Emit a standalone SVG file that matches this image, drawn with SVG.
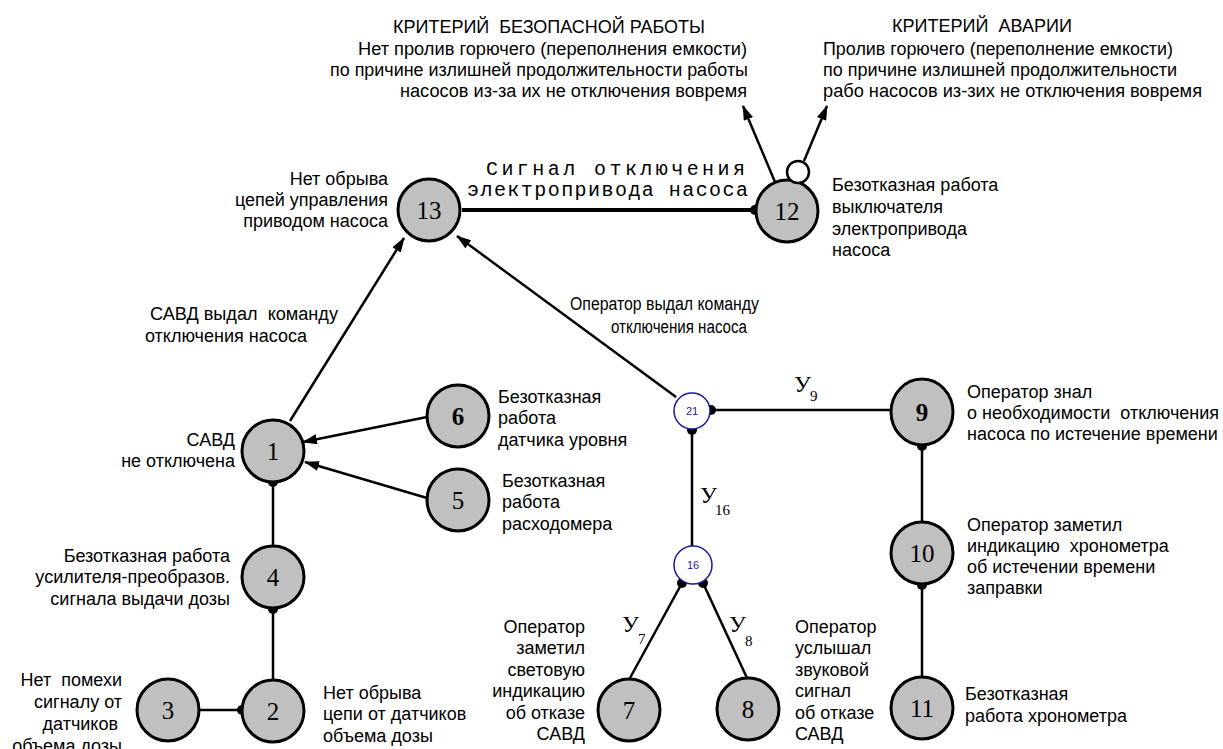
<svg xmlns="http://www.w3.org/2000/svg" width="1223" height="749" viewBox="0 0 1223 749">
<style>
.n{fill:#c0c0c0;stroke:#000;stroke-width:3}
.s{fill:#fff;stroke:#1a1a9a;stroke-width:1.5}
.num{font-family:"Liberation Serif",serif;font-size:25px;text-anchor:middle;fill:#000}
.sn{font-family:"Liberation Sans",sans-serif;font-size:11px;text-anchor:middle;fill:#1a1a9a}
.t{font-family:"Liberation Sans",sans-serif;font-size:18px;fill:#000;white-space:pre}
.r{text-anchor:end}
.m{font-family:"Liberation Mono",monospace;font-size:20px;fill:#000;white-space:pre}
.y{font-family:"Liberation Serif",serif;font-size:24px;fill:#000}
.ys{font-family:"Liberation Serif",serif;font-size:15px;fill:#000}
.c{stroke:#000;stroke-width:2.5;fill:none}
.d{fill:#000}
</style>
<defs>
<marker id="arr" viewBox="0 0 15 10" refX="14" refY="5" markerWidth="15" markerHeight="10" orient="auto" markerUnits="userSpaceOnUse"><path d="M0,0 L15,5 L0,10 z" fill="#000"/></marker>
</defs>
<rect width="1223" height="749" fill="#fff"/>

<g id="criteria">
<text class="t" x="549" y="33" text-anchor="middle" textLength="312" lengthAdjust="spacingAndGlyphs">КРИТЕРИЙ  БЕЗОПАСНОЙ РАБОТЫ</text>
<text class="t" x="358" y="55" textLength="389" lengthAdjust="spacingAndGlyphs">Нет пролив горючего (переполнения емкости)</text>
<text class="t" x="330" y="76" textLength="418" lengthAdjust="spacingAndGlyphs">по причине излишней продолжительности работы</text>
<text class="t" x="400" y="97" textLength="347" lengthAdjust="spacingAndGlyphs">насосов из-за их не отключения вовремя</text>
<text class="t" x="892" y="32" textLength="180" lengthAdjust="spacingAndGlyphs">КРИТЕРИЙ  АВАРИИ</text>
<text class="t" x="823" y="55" textLength="350" lengthAdjust="spacingAndGlyphs">Пролив горючего (переполнение емкости)</text>
<text class="t" x="823" y="76" textLength="354" lengthAdjust="spacingAndGlyphs">по причине излишней продолжительности</text>
<text class="t" x="823" y="97" textLength="379" lengthAdjust="spacingAndGlyphs">рабо насосов из-зих не отключения вовремя</text>
</g>

<g id="connectors">
<line x1="462" y1="210" x2="755" y2="210" stroke="#000" stroke-width="4"/>
<line class="c" x1="775" y1="182" x2="743" y2="106" marker-end="url(#arr)"/>
<line class="c" x1="804" y1="161" x2="827" y2="106" marker-end="url(#arr)"/>
<line class="c" x1="290" y1="421" x2="404" y2="238" stroke-width="2" marker-end="url(#arr)"/>
<line class="c" x1="676" y1="397" x2="457" y2="236" stroke-width="2" marker-end="url(#arr)"/>
<line class="c" x1="427" y1="417" x2="303" y2="442" marker-end="url(#arr)"/>
<line class="c" x1="427" y1="498" x2="305" y2="462" marker-end="url(#arr)"/>
<line class="c" x1="273" y1="482" x2="273" y2="546"/>
<line class="c" x1="273" y1="609" x2="273" y2="680"/>
<line class="c" x1="199" y1="710" x2="242" y2="710"/>
<line class="c" x1="711" y1="410" x2="891" y2="410"/>
<line class="c" x1="692" y1="430" x2="692" y2="546"/>
<line class="c" x1="682" y1="583" x2="630" y2="678"/>
<line class="c" x1="703" y1="583" x2="747" y2="678"/>
<line class="c" x1="922" y1="446" x2="922" y2="522"/>
<line class="c" x1="922" y1="585" x2="922" y2="677"/>
<circle class="d" cx="755" cy="210" r="5"/>
<circle class="d" cx="273" cy="482" r="5"/>
<circle class="d" cx="273" cy="609" r="5"/>
<circle class="d" cx="242" cy="710" r="5"/>
<circle class="d" cx="711" cy="410" r="5"/>
<circle class="d" cx="692" cy="430" r="5"/>
<circle class="d" cx="682" cy="583" r="5"/>
<circle class="d" cx="703" cy="583" r="5"/>
<circle class="d" cx="922" cy="446" r="5"/>
<circle class="d" cx="922" cy="585" r="5"/>
<text class="m" x="486" y="175" textLength="259" lengthAdjust="spacing">Сигнал отключения</text>
<text class="m" x="467" y="196" textLength="281" lengthAdjust="spacing">электропривода насоса</text>
<text class="t" x="150" y="320" textLength="188" lengthAdjust="spacingAndGlyphs">САВД выдал  команду</text>
<text class="t" x="145" y="342" textLength="162" lengthAdjust="spacingAndGlyphs">отключения насоса</text>
<text class="t" x="570" y="310" textLength="189" lengthAdjust="spacingAndGlyphs">Оператор выдал команду</text>
<text class="t" x="611" y="333" textLength="136" lengthAdjust="spacingAndGlyphs">отключения насоса</text>
<text class="y" x="794" y="392">У</text><text class="ys" x="810" y="401">9</text>
<text class="y" x="700" y="503">У</text><text class="ys" x="715" y="515">16</text>
<text class="y" x="622" y="632">У</text><text class="ys" x="638" y="644">7</text>
<text class="y" x="729" y="632">У</text><text class="ys" x="745" y="646">8</text>
</g>

<g id="node13"><circle class="n" cx="429" cy="210" r="31"/><text class="num" x="429" y="219">13</text>
<text class="t r" x="388" y="185">Нет обрыва</text><text class="t r" x="388" y="206">цепей управления</text><text class="t r" x="388" y="227">приводом насоса</text></g>

<g id="node12"><circle class="n" cx="787" cy="211" r="31"/><text class="num" x="787" y="220">12</text>
<circle cx="798" cy="172" r="11" fill="#fff" stroke="#000" stroke-width="2.5"/>
<text class="t" x="832" y="191">Безотказная работа</text><text class="t" x="832" y="213">выключателя</text><text class="t" x="832" y="235">электропривода</text><text class="t" x="832" y="256">насоса</text></g>

<g id="node1"><circle class="n" cx="273" cy="451" r="31"/><text class="num" x="273" y="460">1</text>
<text class="t r" x="235" y="446">САВД</text><text class="t r" x="235" y="467">не отключена</text></g>

<g id="node6"><circle class="n" cx="458" cy="416" r="31"/><text class="num" x="458" y="425" font-weight="bold">6</text>
<text class="t" x="498" y="403">Безотказная</text><text class="t" x="498" y="424">работа</text><text class="t" x="498" y="446">датчика уровня</text></g>

<g id="node5"><circle class="n" cx="458" cy="500" r="31"/><text class="num" x="458" y="509">5</text>
<text class="t" x="502" y="487">Безотказная</text><text class="t" x="502" y="508">работа</text><text class="t" x="502" y="530">расходомера</text></g>

<g id="node4"><circle class="n" cx="273" cy="577" r="31"/><text class="num" x="273" y="586">4</text>
<text class="t r" x="230" y="562">Безотказная работа</text><text class="t r" x="230" y="583">усилителя-преобразов.</text><text class="t r" x="230" y="605">сигнала выдачи дозы</text></g>

<g id="node2"><circle class="n" cx="273" cy="711" r="31"/><text class="num" x="273" y="720">2</text>
<text class="t" x="323" y="699">Нет обрыва</text><text class="t" x="323" y="720">цепи от датчиков</text><text class="t" x="323" y="742">объема дозы</text></g>

<g id="node3"><circle class="n" cx="168" cy="710" r="31"/><text class="num" x="168" y="719">3</text>
<text class="t r" x="122" y="686">Нет  помехи</text><text class="t r" x="122" y="708">сигналу от</text><text class="t r" x="118" y="730">датчиков</text><text class="t r" x="122" y="752">объема дозы</text></g>

<g id="node21"><circle class="s" cx="692" cy="411" r="18"/><text class="sn" x="692" y="415">21</text></g>

<g id="node16"><circle class="s" cx="693" cy="565" r="19"/><text class="sn" x="693" y="569">16</text></g>

<g id="node9"><ellipse class="n" cx="922" cy="412" rx="31" ry="33"/><text class="num" x="922" y="421" font-weight="bold">9</text>
<text class="t" x="967" y="398">Оператор знал</text><text class="t" x="967" y="419">о необходимости  отключения</text><text class="t" x="967" y="440">насоса по истечение времени</text></g>

<g id="node10"><circle class="n" cx="922" cy="553" r="31"/><text class="num" x="922" y="562">10</text>
<text class="t" x="967" y="531">Оператор заметил</text><text class="t" x="967" y="552">индикацию  хронометра</text><text class="t" x="967" y="573">об истечении времени</text><text class="t" x="967" y="594">заправки</text></g>

<g id="node11"><circle class="n" cx="922" cy="708" r="31"/><text class="num" x="922" y="717">11</text>
<text class="t" x="965" y="700">Безотказная</text><text class="t" x="965" y="722">работа хронометра</text></g>

<g id="node7"><circle class="n" cx="629" cy="710" r="31"/><text class="num" x="629" y="719">7</text>
<text class="t r" x="585" y="633">Оператор</text><text class="t r" x="585" y="654">заметил</text><text class="t r" x="585" y="676">световую</text><text class="t r" x="585" y="697">индикацию</text><text class="t r" x="585" y="719">об отказе</text><text class="t r" x="585" y="740">САВД</text></g>

<g id="node8"><circle class="n" cx="748" cy="709" r="31"/><text class="num" x="748" y="718">8</text>
<text class="t" x="795" y="633">Оператор</text><text class="t" x="795" y="654">услышал</text><text class="t" x="795" y="676">звуковой</text><text class="t" x="795" y="697">сигнал</text><text class="t" x="795" y="719">об отказе</text><text class="t" x="795" y="740">САВД</text></g>
</svg>
